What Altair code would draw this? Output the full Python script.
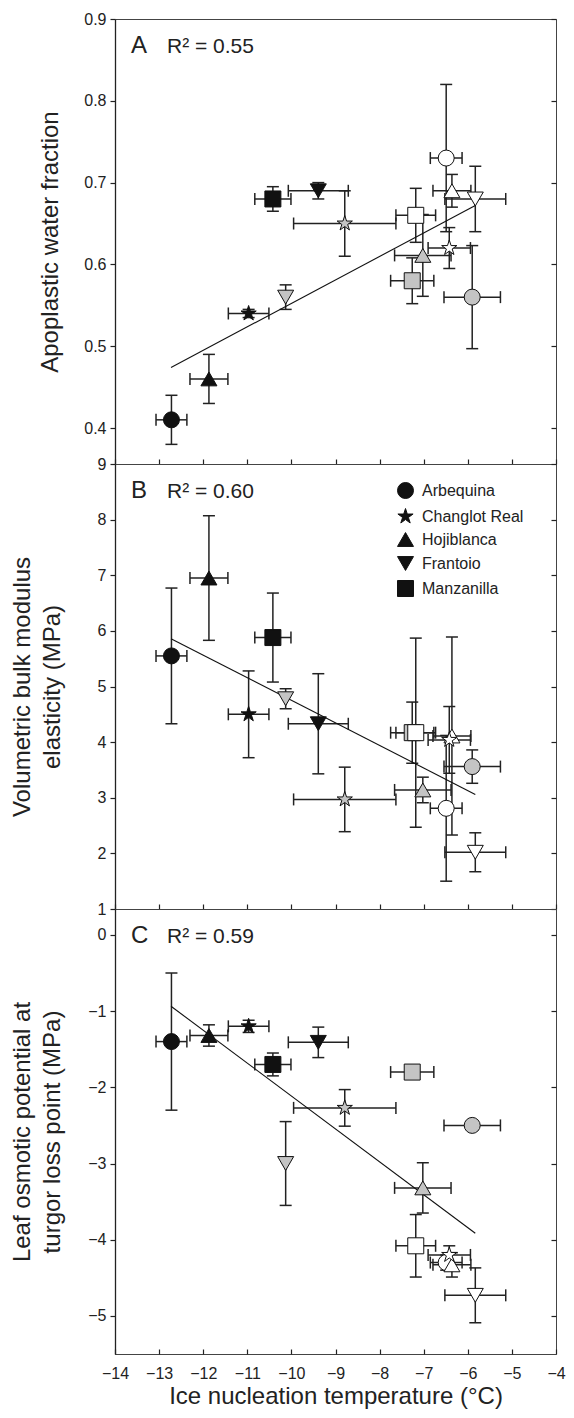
import altair as alt
import pandas as pd

FONT = "Liberation Sans"
INK = "#222222"

# ---- data ----
cultivars = ["Arbequina", "Hojiblanca", "Changlot Real", "Manzanilla", "Frantoio",
             "Frantoio", "Changlot Real", "Manzanilla", "Hojiblanca", "Arbequina",
             "Arbequina", "Hojiblanca", "Frantoio", "Manzanilla", "Changlot Real"]
groups = ["black"] * 5 + ["grey"] * 5 + ["white"] * 5
ice_temp = [-12.72, -11.87, -10.97, -10.42, -9.39,
            -10.13, -8.79, -7.26, -7.02, -5.90,
            -6.49, -6.36, -5.83, -7.18, -6.42]
ice_temp_err = [0.35, 0.43, 0.46, 0.41, 0.68,
                0.0, 1.16, 0.49, 0.64, 0.64,
                0.36, 0.43, 0.69, 0.45, 0.48]

awf = [0.41, 0.46, 0.54, 0.68, 0.69,
       0.56, 0.65, 0.58, 0.611, 0.56,
       0.73, 0.69, 0.68, 0.66, 0.62]
awf_err = [0.03, 0.03, 0.005, 0.015, 0.01,
           0.015, 0.04, 0.028, 0.05, 0.063,
           0.09, 0.02, 0.04, 0.033, 0.025]

bulk = [5.55, 6.95, 4.50, 5.88, 4.33,
        4.78, 2.97, 4.17, 3.14, 3.56,
        2.81, 4.11, 2.02, 4.17, 4.04]
bulk_err = [1.22, 1.12, 0.78, 0.80, 0.90,
            0.18, 0.58, 0.55, 0.23, 0.30,
            1.31, 1.78, 0.35, 1.70, 0.60]

tlp = [-1.40, -1.32, -1.20, -1.70, -1.41,
       -3.00, -2.27, -1.80, -3.32, -2.50,
       -4.30, -4.33, -4.73, -4.08, -4.20]
tlp_err = [0.90, 0.14, 0.08, 0.15, 0.20,
           0.55, 0.24, 0.03, 0.33, 0.03,
           0.10, 0.16, 0.36, 0.41, 0.12]

fit_x = [-12.73, -5.83]
fit_awf = [0.474, 0.672]
fit_bulk = [5.86, 3.06]
fit_tlp = [-0.936, -3.916]

panel_letters = ["A", "B", "C"]
r2_labels = ["R\u00b2 = 0.55", "R\u00b2 = 0.60", "R\u00b2 = 0.59"]
legend_order = ["Arbequina", "Changlot Real", "Hojiblanca", "Frantoio", "Manzanilla"]
x_ticks = [-14, -13, -12, -11, -10, -9, -8, -7, -6, -5, -4]
awf_ticks = [0.4, 0.5, 0.6, 0.7, 0.8, 0.9]
bulk_ticks = [1, 2, 3, 4, 5, 6, 7, 8, 9]
tlp_ticks = [-5, -4, -3, -2, -1, 0]

STAR = ("M0,-1L0.2245,-0.309L0.9511,-0.309L0.3633,0.118L0.5878,0.809L0,0.382"
        "L-0.5878,0.809L-0.3633,0.118L-0.9511,-0.309L-0.2245,-0.309Z")
shape_range = ["circle", STAR, "triangle-up", "triangle-down", "square"]
fill_range = ["#111111", "#c4c4c4", "#ffffff"]

W = 441
H = 445


def panel(yv, ye, fity, ydomain, yticks, yfmt, ytitle, title_x, letter, r2,
          show_legend, bottom):
    df = pd.DataFrame({"cultivar": cultivars, "group": groups,
                       "x": ice_temp, "xerr": ice_temp_err,
                       "y": yv, "yerr": ye})
    df["xlo"] = df["x"] - df["xerr"]
    df["xhi"] = df["x"] + df["xerr"]
    df["ylo"] = df["y"] - df["yerr"]
    df["yhi"] = df["y"] + df["yerr"]
    fitdf = pd.DataFrame({"x": fit_x, "y": fity})

    xs = alt.Scale(domain=[-14, -4], nice=False, zero=False)
    ys = alt.Scale(domain=ydomain, nice=False, zero=False)

    if bottom:
        xaxis = alt.Axis(values=x_ticks, format="d", tickSize=5, offset=-5,
                         domain=False, grid=False, labels=True, labelPadding=11,
                         labelFlush=False, labelOverlap=False,
                         labelFontSize=16, title="Ice nucleation temperature (\u00b0C)",
                         titleFontSize=24, titlePadding=3)
    else:
        xaxis = alt.Axis(values=x_ticks, tickSize=5, offset=-5, domain=False,
                         grid=False, labels=False, title=None)

    yaxis_left = alt.Axis(values=yticks, format=yfmt, tickSize=5, grid=False,
                          domain=True, domainColor=INK, domainWidth=1.3,
                          labelPadding=4, labelOverlap=False, labelFontSize=16,
                          title=ytitle, titleFontSize=24, titleAngle=270,
                          titleX=title_x, titleY=H / 2, titleAlign="center",
                          titleBaseline="middle", titleLineHeight=30)
    yaxis_right = alt.Axis(orient="right", values=yticks, tickSize=5, offset=-5,
                           domain=False, grid=False, labels=False, title=None)

    base = alt.Chart(df)
    xrules = base.mark_rule(color=INK, strokeWidth=1.5).encode(
        x=alt.X("xlo:Q", scale=xs, axis=xaxis), x2="xhi:Q",
        y=alt.Y("y:Q", scale=ys, axis=None))
    yrules = base.mark_rule(color=INK, strokeWidth=1.5).encode(
        x=alt.X("x:Q", scale=xs, axis=xaxis),
        y=alt.Y("ylo:Q", scale=ys, axis=None), y2="yhi:Q")
    xcaps = base.transform_fold(["xlo", "xhi"], as_=["side", "xc"]).mark_tick(
        orient="vertical", size=12, thickness=1.5, color=INK, opacity=1).encode(
        x=alt.X("xc:Q", scale=xs, axis=xaxis),
        y=alt.Y("y:Q", scale=ys, axis=None))
    ycaps = base.transform_fold(["ylo", "yhi"], as_=["side", "yc"]).mark_tick(
        orient="horizontal", size=12, thickness=1.5, color=INK, opacity=1).encode(
        x=alt.X("x:Q", scale=xs, axis=xaxis),
        y=alt.Y("yc:Q", scale=ys, axis=None))
    fit = alt.Chart(fitdf).mark_line(color="#111111", strokeWidth=1.1).encode(
        x=alt.X("x:Q", scale=xs, axis=xaxis),
        y=alt.Y("y:Q", scale=ys, axis=yaxis_right))

    if show_legend:
        legend = alt.Legend(orient="none", legendX=282, legendY=18, title=None,
                            symbolSize=256, symbolFillColor="#111111",
                            symbolStrokeColor="#111111", symbolStrokeWidth=1,
                            labelFontSize=16, labelFont=FONT, labelColor=INK,
                            rowPadding=5, labelOffset=8, padding=0)
        shape = alt.Shape("cultivar:N", scale=alt.Scale(domain=legend_order, range=shape_range),
                          legend=legend)
    else:
        shape = alt.Shape("cultivar:N", scale=alt.Scale(domain=legend_order, range=shape_range),
                          legend=None)

    points = base.mark_point(filled=True, size=256, opacity=1, fillOpacity=1,
                             stroke="#111111", strokeWidth=1).encode(
        x=alt.X("x:Q", scale=xs, axis=xaxis),
        y=alt.Y("y:Q", scale=ys, axis=yaxis_left),
        shape=shape,
        fill=alt.Fill("group:N", scale=alt.Scale(domain=["black", "grey", "white"],
                                                 range=fill_range), legend=None))

    labdf = pd.DataFrame({"letter": [letter], "r2": [r2]})
    lab = alt.Chart(labdf)
    letter_t = lab.mark_text(align="left", baseline="alphabetic", font=FONT,
                             fontSize=24, color=INK).encode(
        x=alt.value(16), y=alt.value(34), text="letter:N")
    r2_t = lab.mark_text(align="left", baseline="alphabetic", font=FONT,
                         fontSize=21, color=INK).encode(
        x=alt.value(52), y=alt.value(34), text="r2:N")

    return alt.layer(xrules, yrules, xcaps, ycaps, fit, points, letter_t, r2_t).resolve_axis(
        y="independent").properties(width=W, height=H)


pA = panel(awf, awf_err, fit_awf, [0.356, 0.9], awf_ticks, ".1f",
           "Apoplastic water fraction", -65, panel_letters[0], r2_labels[0], False, False)
pB = panel(bulk, bulk_err, fit_bulk, [1, 9], bulk_ticks, "d",
           ["Volumetric bulk modulus", "elasticity (MPa)"], -93,
           panel_letters[1], r2_labels[1], True, False)
pC = panel(tlp, tlp_err, fit_tlp, [-5.5, 0.34], tlp_ticks, "d",
           ["Leaf osmotic potential at", "turgor loss point (MPa)"], -93,
           panel_letters[2], r2_labels[2], False, True)

chart = alt.vconcat(pA, pB, pC, spacing=0, bounds="flush").resolve_scale(
    x="independent", y="independent", shape="independent", fill="independent").resolve_axis(
    x="independent", y="independent").configure_view(
    stroke="#444444", strokeWidth=1).configure_axis(
    labelFont=FONT, titleFont=FONT, labelColor=INK, titleColor=INK,
    tickColor=INK, tickWidth=1.2, titleFontWeight="normal").properties(
    padding={"left": 1, "top": 2, "right": 0, "bottom": 0},
    background="white")

chart.save("out.html", embed_options={"renderer": "svg", "actions": False})
